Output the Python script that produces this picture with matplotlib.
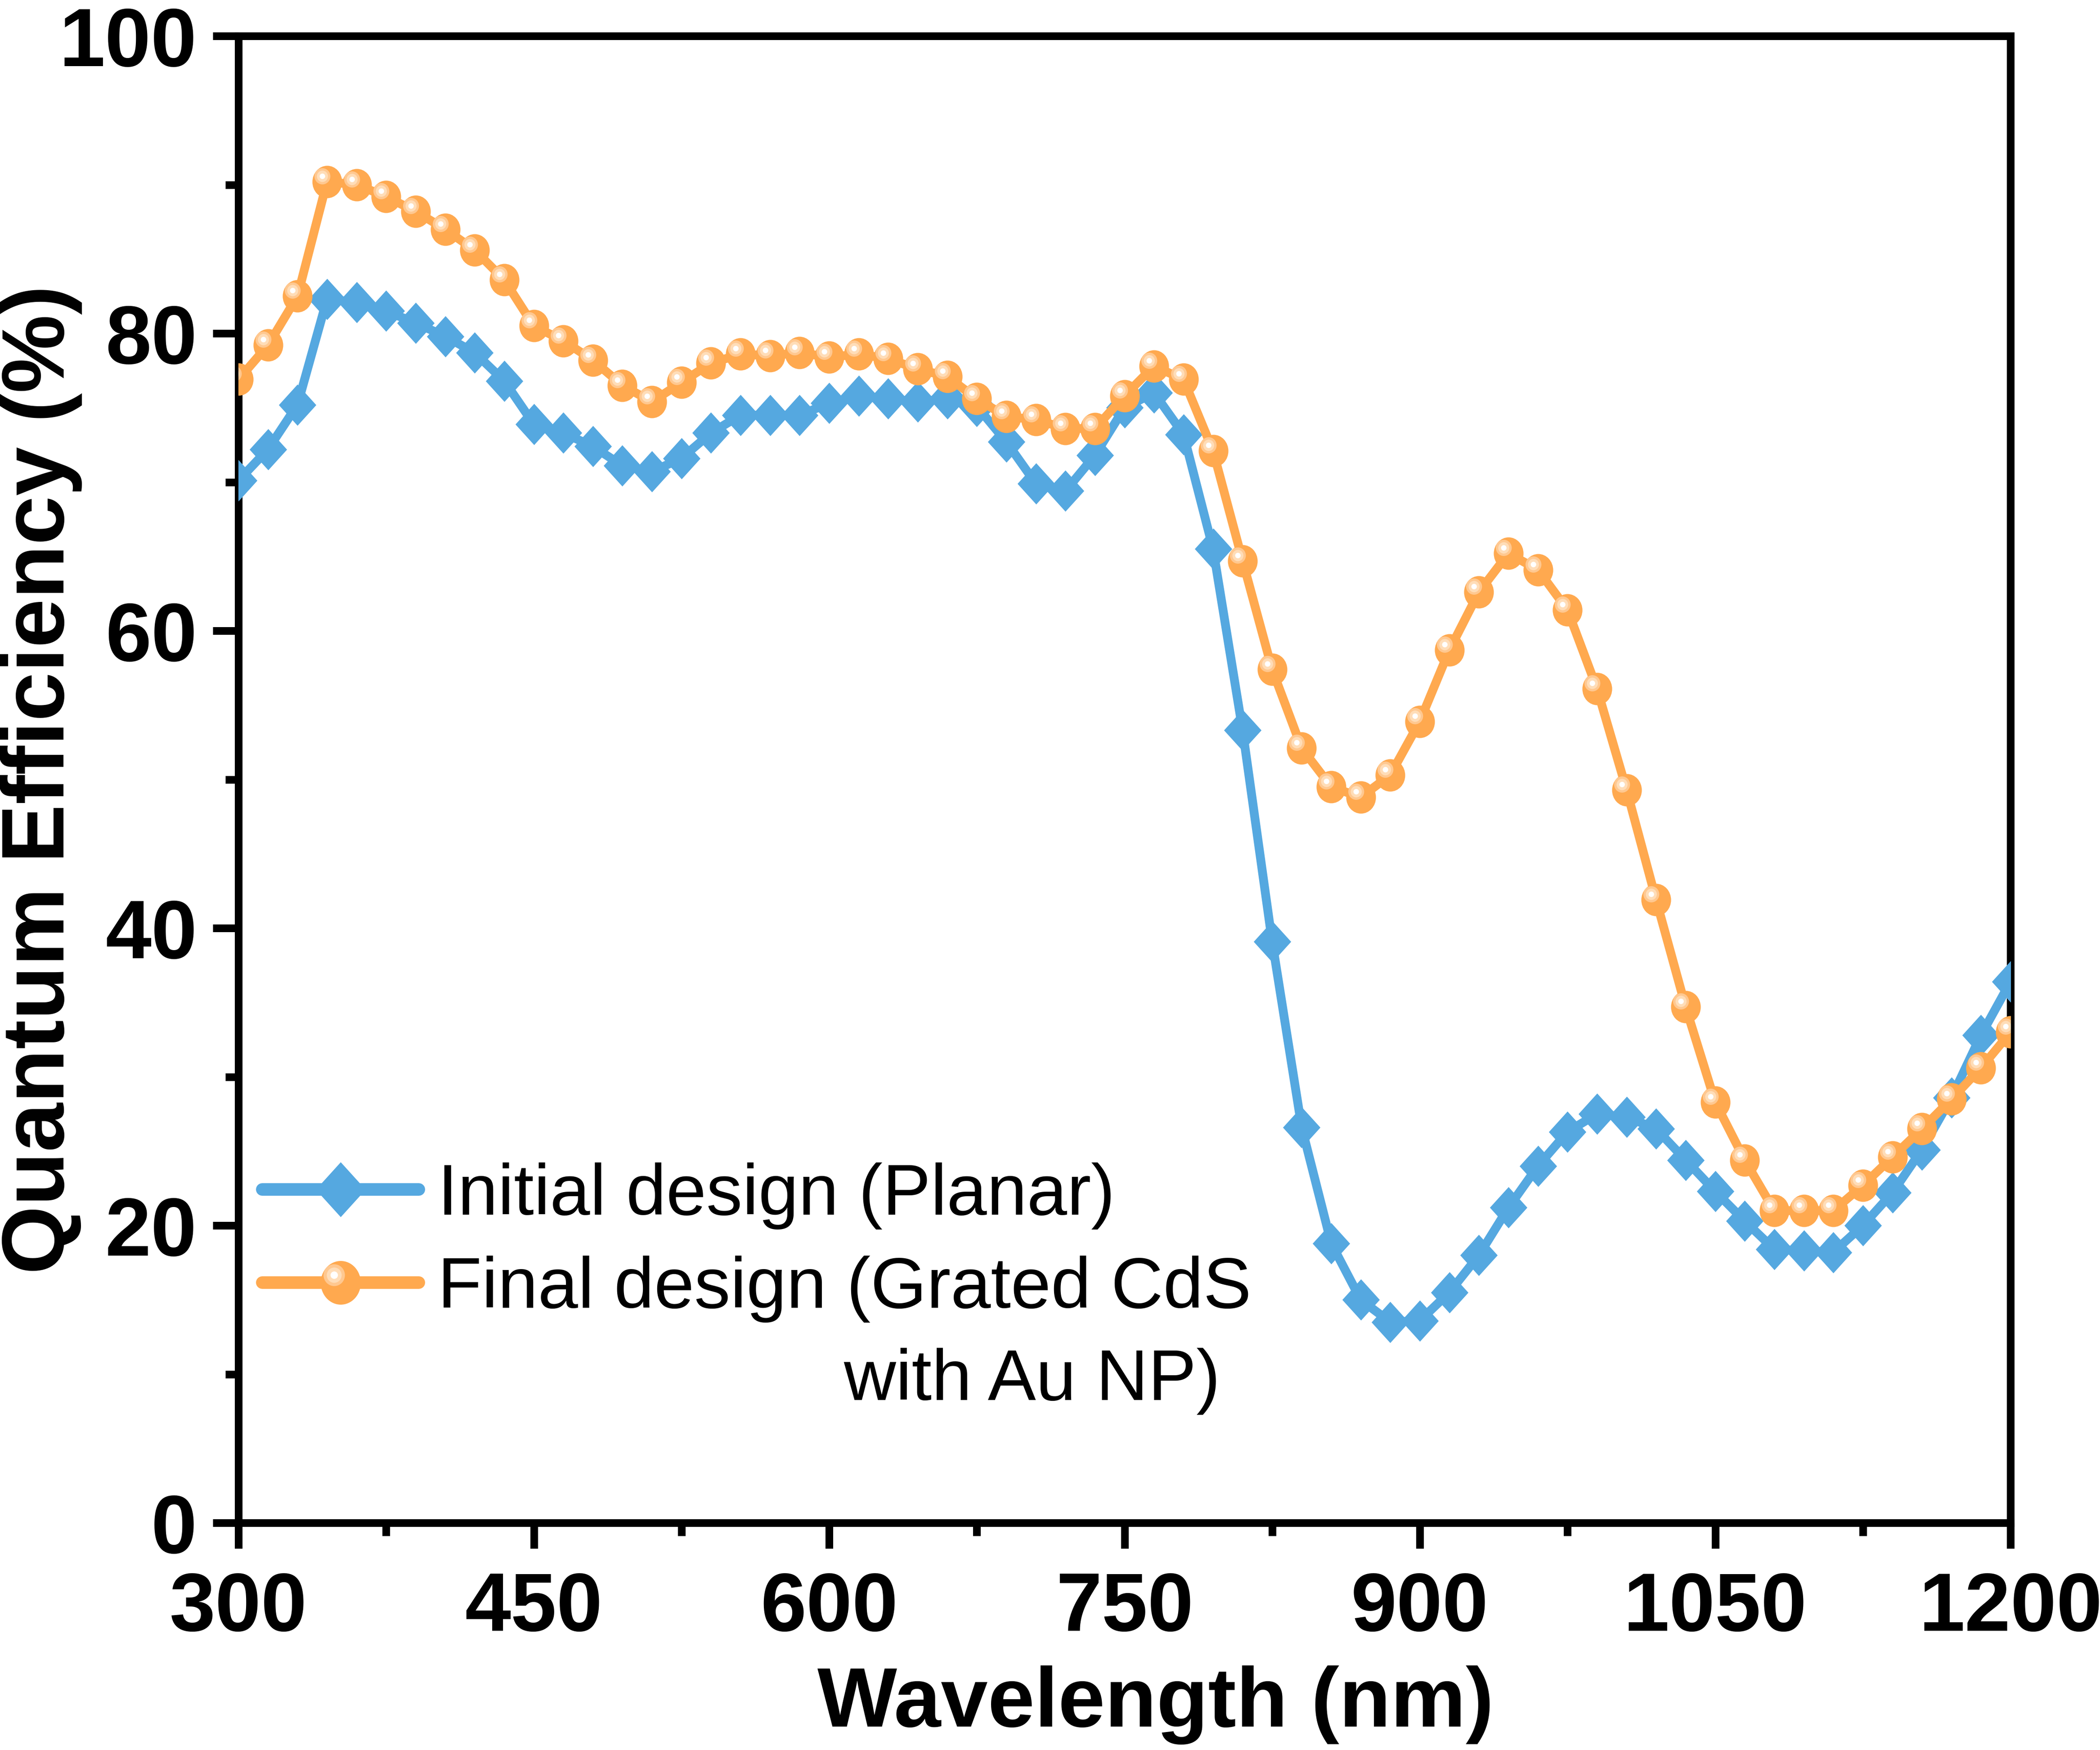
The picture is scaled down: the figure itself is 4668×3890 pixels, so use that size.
import numpy as np
import matplotlib.pyplot as plt
from matplotlib.path import Path
from matplotlib.lines import Line2D
from matplotlib.legend_handler import HandlerTuple
from matplotlib.ticker import MultipleLocator

plt.rcParams['font.family'] = ['Liberation Sans', 'DejaVu Sans']
plt.rcParams['font.weight'] = 'bold'

# wavelength grid of the simulation, 15 nm steps
wavelength = np.arange(300, 1201, 15)

qe_initial = [70.1, 72.2, 75.2, 82.3, 82.1, 81.5, 80.7, 79.8, 78.7, 76.8,
              73.9, 73.3, 72.4, 71.1, 70.7, 71.6, 73.3, 74.5, 74.5, 74.5,
              75.3, 75.8, 75.6, 75.4, 75.6, 75.1, 72.7, 69.9, 69.4, 71.8,
              75.0, 76.0, 73.2, 65.5, 53.3, 39.1, 26.6, 18.8, 15.0, 13.5,
              13.6, 15.5, 18.0, 21.2, 24.0, 26.3, 27.5, 27.3, 26.5, 24.4,
              22.3, 20.3, 18.4, 18.3, 18.2, 20.0, 22.2, 25.1, 28.6, 32.8,
              36.4]

qe_final = [76.9, 79.2, 82.5, 90.2, 90.0, 89.2, 88.2, 87.0, 85.6, 83.6,
            80.5, 79.5, 78.2, 76.5, 75.4, 76.7, 78.0, 78.6, 78.5, 78.7,
            78.4, 78.6, 78.3, 77.6, 77.1, 75.6, 74.4, 74.2, 73.6, 73.6,
            75.8, 77.8, 76.9, 72.1, 64.7, 57.4, 52.1, 49.5, 48.8, 50.3,
            53.9, 58.7, 62.6, 65.2, 64.1, 61.4, 56.1, 49.3, 41.9, 34.7,
            28.3, 24.4, 21.0, 21.0, 21.0, 22.7, 24.6, 26.5, 28.5, 30.6,
            33.0]

label_initial = 'Initial design (Planar)'
label_final = 'Final design (Grated CdS'
label_final_2 = 'with Au NP)'

blue = '#55A8E0'
orange = '#FFA94F'


def ellipse(cx, cy, rx, ry):
    circ = Path.unit_circle()
    v = circ.vertices.copy()
    v[:, 0] = v[:, 0] * rx + cx
    v[:, 1] = v[:, 1] * ry + cy
    return Path(v, circ.codes)


def msize(path, d):
    # matplotlib scales custom markers by their largest vertex
    return d * np.abs(path.vertices).max()


# Origin-like shaded sphere, unit = outer vertical radius
sphere = [(ellipse(0, 0, 0.917, 1.0), orange),
          (ellipse(-0.30, 0.35, 0.49, 0.50), '#FFC890'),
          (ellipse(-0.30, 0.35, 0.34, 0.35), '#FFDDB8'),
          (ellipse(-0.30, 0.35, 0.17, 0.17), 'white')]

diamond = Path([(0, 1), (0.907, 0), (0, -1), (-0.907, 0), (0, 1)],
               [Path.MOVETO, Path.LINETO, Path.LINETO, Path.LINETO, Path.CLOSEPOLY])

fig = plt.figure(figsize=(15.56, 12.9667), dpi=300)
ax = fig.add_axes([0.11354, 0.1298, 0.84386, 0.84963])

ax.plot(wavelength, qe_initial, color=blue, lw=4.7, marker=diamond, ms=22,
        mew=0, zorder=3)
ax.plot(wavelength, qe_final, color=orange, lw=4.7, marker=sphere[0][0],
        ms=msize(sphere[0][0], 17.3), mew=0, zorder=4)
for p, c in sphere[1:]:
    ax.plot(wavelength, qe_final, ls='none', marker=p, ms=msize(p, 17.3),
            mfc=c, mew=0, zorder=5)

ax.set_xlim(300, 1200)
ax.set_ylim(0, 100)
ax.xaxis.set_major_locator(MultipleLocator(150))
ax.xaxis.set_minor_locator(MultipleLocator(75))
ax.yaxis.set_major_locator(MultipleLocator(20))
ax.yaxis.set_minor_locator(MultipleLocator(10))

for s in ax.spines.values():
    s.set_linewidth(4.1)
ax.tick_params(which='major', length=13.7, width=4.1, labelsize=44)
ax.tick_params(which='minor', length=7, width=4.1)
ax.tick_params(axis='x', which='both', pad=12)
ax.tick_params(axis='y', which='both', pad=8.4)

ax.set_xlabel('Wavelength (nm)', fontsize=45, fontweight='bold')
ax.set_ylabel('Quantum Efficiency (%)', fontsize=47, fontweight='bold')
ax.xaxis.set_label_coords(0.5175, -0.0959)
ax.yaxis.set_label_coords(-0.0881, 0.5)

# legend handles are drawn a bit larger than the data markers
h_blue = Line2D([], [], color=blue, lw=6.7, solid_capstyle='round',
                marker=diamond, ms=29.3, mew=0)
h_orange = [Line2D([], [], color=orange, lw=6.7, solid_capstyle='round',
                   marker=sphere[0][0], ms=msize(sphere[0][0], 23.3), mew=0)]
for p, c in sphere[1:]:
    h_orange.append(Line2D([], [], ls='none', marker=p, ms=msize(p, 23.3),
                           mfc=c, mew=0))

ax.legend([h_blue, tuple(h_orange)], [label_initial, label_final],
          handler_map={tuple: HandlerTuple(ndivide=1, pad=0)},
          loc='upper left', bbox_to_anchor=(0.0135, 0.2424),
          frameon=False, borderpad=0, borderaxespad=0,
          handlelength=2.17, handletextpad=0.26, labelspacing=0.36,
          prop={'size': 38.5, 'weight': 'normal'})
ax.text(0.5542, 0.0826, label_final_2, transform=ax.transAxes,
        ha='right', va='baseline', fontsize=38.5, fontweight='normal')

fig.savefig('out.png', dpi=300)
